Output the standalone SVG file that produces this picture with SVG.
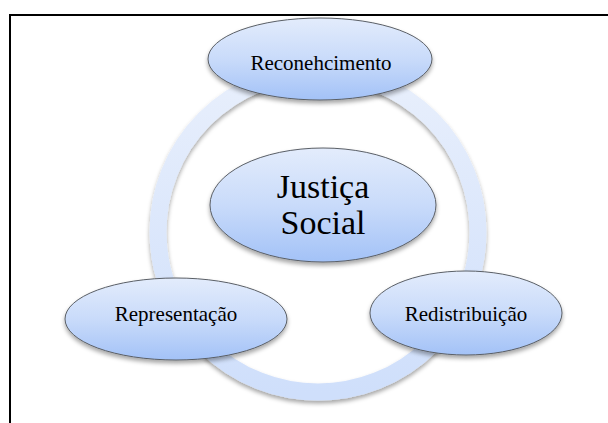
<svg xmlns="http://www.w3.org/2000/svg" width="608" height="423" viewBox="0 0 608 423">
<style>
.node{fill:url(#nodeFill);stroke:#5a5f66;stroke-width:1;filter:url(#shadow)}
.lbl{font-size:21px;fill:#000;text-anchor:middle}
.big{font-size:34px}
</style>
<defs>
<linearGradient id="nodeFill" x1="0" y1="0" x2="0" y2="1">
<stop offset="0" stop-color="#e3ecfc"/>
<stop offset="0.5" stop-color="#c9dbfa"/>
<stop offset="1" stop-color="#a3c2f7"/>
</linearGradient>
<linearGradient id="ringFill" x1="0" y1="0" x2="0" y2="1">
<stop offset="0" stop-color="#e8effc"/>
<stop offset="1" stop-color="#cfdffb"/>
</linearGradient>
<filter id="shadow" x="-20%" y="-20%" width="140%" height="150%">
<feDropShadow dx="0" dy="3" stdDeviation="2" flood-color="#000" flood-opacity="0.35"/>
</filter>
</defs>
<rect width="608" height="423" fill="#fff"/>
<path d="M10,423 V15 H608" fill="none" stroke="#000" stroke-width="2"/>
<g id="connectors">
<circle cx="318" cy="232" r="160" fill="none" stroke="url(#ringFill)" stroke-width="17" filter="url(#shadow)"/>
</g>
<g font-family="'Liberation Serif', 'Times New Roman', 'DejaVu Serif', serif">
<g id="node-justica">
<ellipse class="node" cx="323" cy="205" rx="113" ry="57"/>
<text class="lbl big" x="323" y="198">Justiça</text>
<text class="lbl big" x="323" y="234">Social</text>
</g>
<g id="node-reconhecimento">
<ellipse class="node" cx="320" cy="59" rx="112" ry="41"/>
<text class="lbl" x="321" y="70">Reconehcimento</text>
</g>
<g id="node-representacao">
<ellipse class="node" cx="176" cy="319" rx="111" ry="41"/>
<text class="lbl" x="176" y="321">Representação</text>
</g>
<g id="node-redistribuicao">
<ellipse class="node" cx="466" cy="313" rx="96" ry="42"/>
<text class="lbl" x="466" y="321">Redistribuição</text>
</g>
</g>
</svg>
